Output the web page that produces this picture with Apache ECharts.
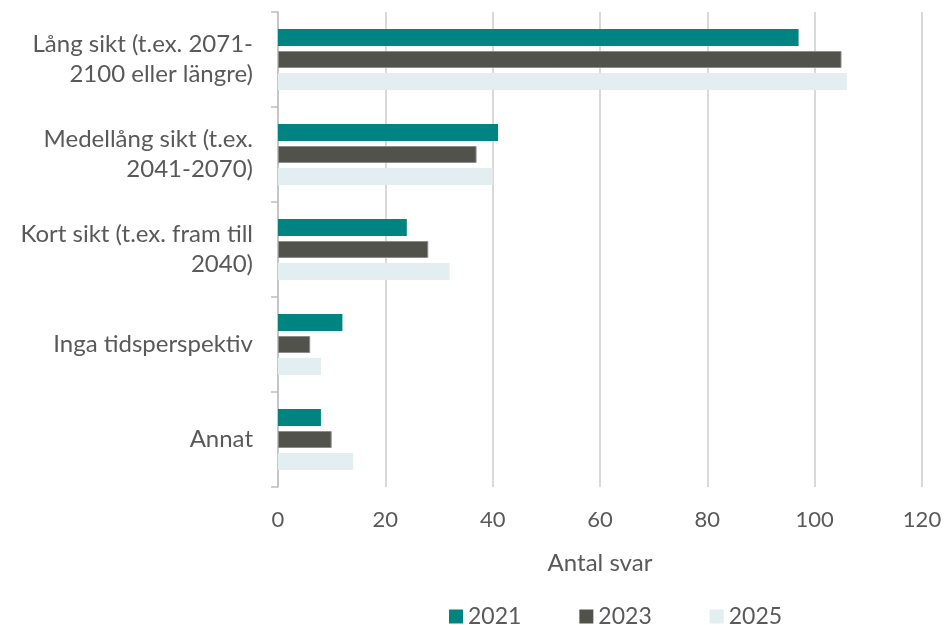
<!DOCTYPE html>
<html><head><meta charset="utf-8">
<script src="https://cdn.jsdelivr.net/npm/echarts@6/dist/echarts.min.js"></script>
<style>html,body{margin:0;padding:0;background:#fff}#c{width:946px;height:625px}</style>
</head><body><div id="c"></div>
<script>
const categories = [
  "Lång sikt (t.ex. 2071-\n2100 eller längre)",
  "Medellång sikt (t.ex.\n2041-2070)",
  "Kort sikt (t.ex. fram till\n2040)",
  "Inga tidsperspektiv",
  "Annat"
];
const s2021 = [97, 41, 24, 12, 8];
const s2023 = [105, 37, 28, 6, 10];
const s2025 = [106, 40, 32, 8, 14];
const xTicks = [0, 20, 40, 60, 80, 100, 120];

const font = "Lato";
const txt = "#595959";
const chart = echarts.init(document.getElementById('c'), null, {renderer: 'canvas'});
chart.setOption({
  animation: false,
  textStyle: {fontFamily: font},
  grid: {left: 278, right: 24, top: 12, bottom: 138, containLabel: false},
  legend: {
    top: 600, left: 444, itemWidth: 14, itemHeight: 14, itemGap: 58,
    textStyle: {fontSize: 23, color: txt, fontFamily: font},
    itemStyle: {borderWidth: 0},
    data: ['2021', '2023', '2025'], icon: 'rect'
  },
  xAxis: {
    type: 'value', min: xTicks[0], max: xTicks[xTicks.length-1], interval: 20,
    name: 'Antal svar', nameLocation: 'middle', nameGap: 64,
    nameTextStyle: {fontSize: 24, color: txt, fontFamily: font},
    axisLabel: {fontSize: 22, color: txt, margin: 22, fontFamily: font},
    axisLine: {show: false}, axisTick: {show: false},
    splitLine: {lineStyle: {color: '#D9D9D9', width: 2}}
  },
  yAxis: {
    type: 'category', data: categories, inverse: true,
    axisLine: {lineStyle: {color: '#BFBFBF', width: 1.5}},
    axisTick: {show: true, length: 7, lineStyle: {color: '#BFBFBF', width: 1.5}},
    axisLabel: {fontSize: 24, color: txt, margin: 25, lineHeight: 30, align: 'right', fontFamily: font}
  },
  series: [
    {name: '2021', type: 'bar', data: s2021, barWidth: 17, barGap: '30%',
     itemStyle: {color: '#008482'}},
    {name: '2023', type: 'bar', data: s2023, barWidth: 17, barGap: '30%',
     itemStyle: {color: '#52524D', borderColor: '#8C8C8C', borderWidth: 1}},
    {name: '2025', type: 'bar', data: s2025, barWidth: 17, barGap: '30%',
     itemStyle: {color: '#E2EEF0'}}
  ]
});
</script></body></html>
